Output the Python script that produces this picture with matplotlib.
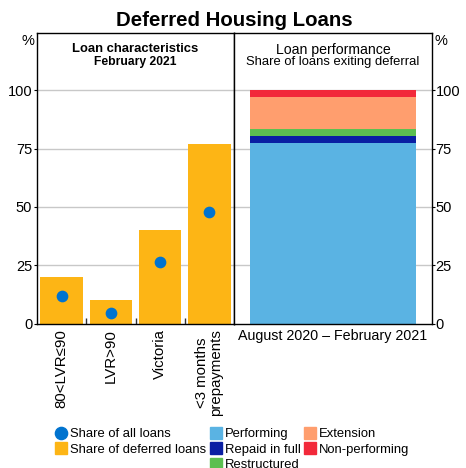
import matplotlib
matplotlib.use("Agg")
import matplotlib.pyplot as plt
from matplotlib.lines import Line2D

plt.rcParams['font.family'] = ['Liberation Sans', 'DejaVu Sans']

# Data
categories = ["80<LVR≤90", "LVR>90", "Victoria", "<3 months\nprepayments"]
share_deferred = [20, 10, 40, 77]
share_all = [12, 4.5, 26.5, 48]

perf_label = "August 2020 – February 2021"
perf_series = ["Performing", "Repaid in full", "Restructured", "Extension", "Non-performing"]
perf_values = [77.5, 2.7, 3.0, 13.8, 3.0]
perf_colors = ["#5AB3E3", "#0A1FA3", "#5CBF50", "#FF9E6E", "#F2293A"]

orange = "#FDB515"
dot_blue = "#0073CF"
yticks = [0, 25, 50, 75, 100]

W, H = 466, 468
fig = plt.figure(figsize=(W / 100, H / 100), dpi=100)

def fx(px):
    return px / W

def fy(py):
    return 1 - py / H

top, bottom = 33.3, 323.5
axL = fig.add_axes([fx(37), fy(bottom), fx(234 - 37), (bottom - top) / H])
axR = fig.add_axes([fx(234), fy(bottom), fx(432 - 234), (bottom - top) / H])

ymax = 124.4
grid_c = "#C8C8C8"
for ax in (axL, axR):
    ax.set_ylim(0, ymax)
    ax.set_yticks(yticks)
    for t in yticks[1:]:
        ax.axhline(t, color=grid_c, lw=1.0, zorder=0)
    for s in ax.spines.values():
        s.set_color("black")
        s.set_linewidth(1.0)

# Left panel
x = list(range(len(categories)))
axL.bar(x, share_deferred, width=0.86, color=orange, zorder=2)
axL.scatter(x, share_all, s=55, color=dot_blue, zorder=3)
axL.set_xlim(-0.5, len(categories) - 0.5)
axL.set_xticks(x)
axL.set_xticklabels(categories, rotation=90, va="top", ha="center", fontsize=10.8, linespacing=1.0)
axL.tick_params(axis="x", length=0, pad=4)
axL.set_xticks([0.5, 1.5, 2.5], minor=True)
axL.tick_params(axis="x", which="minor", direction="in", length=4, width=1, color="#333333")
axL.tick_params(axis="y", direction="out", length=2.5, labelsize=10.5, pad=1, color="black")
axL.yaxis.set_ticks_position("left")
axL.text(0.5, 0.967, "Loan characteristics", transform=axL.transAxes, ha="center", va="top",
         fontsize=9.4, fontweight="bold")
axL.text(0.5, 0.922, "February 2021", transform=axL.transAxes, ha="center", va="top",
         fontsize=8.7, fontweight="bold")

# Right panel
bottom_acc = 0
for name, val, col in zip(perf_series, perf_values, perf_colors):
    axR.bar([0], [val], bottom=bottom_acc, width=0.835, color=col, zorder=2, label=name)
    bottom_acc += val
axR.set_xlim(-0.5, 0.5)
axR.set_xticks([0])
axR.set_xticklabels([perf_label], fontsize=10.3)
axR.tick_params(axis="x", length=0, pad=4)
axR.yaxis.set_ticks_position("right")
axR.tick_params(axis="y", direction="out", length=2, labelsize=10.5, pad=0.5,
                labelright=True, labelleft=False)
axR.text(0.5, 0.967, "Loan performance", transform=axR.transAxes, ha="center", va="top",
         fontsize=10.2)
axR.text(0.5, 0.922, "Share of loans exiting deferral", transform=axR.transAxes, ha="center",
         va="top", fontsize=9.4)

# Title and units
fig.text(fx(234), fy(20), "Deferred Housing Loans", ha="center", va="center",
         fontsize=14.7, fontweight="bold")
fig.text(fx(28), fy(41), "%", ha="center", va="center", fontsize=10.5)
fig.text(fx(441), fy(41), "%", ha="center", va="center", fontsize=10.5)

# Legends
def mk(marker, color, ms=8.8):
    return Line2D([], [], marker=marker, color=color, linestyle="none", markersize=ms)

leg_kw = dict(frameon=False, fontsize=9.4, handlelength=0.75, handletextpad=0.3,
              borderpad=0, borderaxespad=0, labelspacing=0.27, loc="upper left")
l1 = fig.legend([mk("o", dot_blue), mk("s", orange)],
                ["Share of all loans", "Share of deferred loans"],
                bbox_to_anchor=(fx(56), fy(428)), **leg_kw)
l2 = fig.legend([mk("s", c) for c in perf_colors[:3]], perf_series[:3],
                bbox_to_anchor=(fx(211), fy(428)), **leg_kw)
l3 = fig.legend([mk("s", c) for c in perf_colors[3:]], perf_series[3:],
                bbox_to_anchor=(fx(305), fy(428)), **leg_kw)

fig.savefig("out.png", dpi=100)
